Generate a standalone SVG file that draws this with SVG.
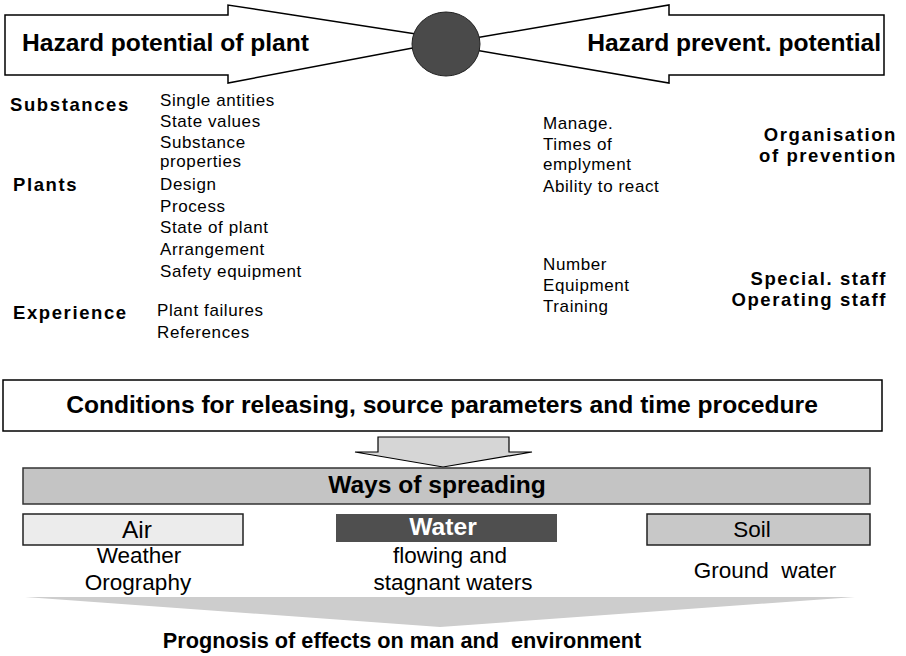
<svg xmlns="http://www.w3.org/2000/svg" width="906" height="656" viewBox="0 0 906 656">
<style>
.bg{fill:#ffffff}
.ln{stroke:#000;stroke-width:1.5;fill:#fff}
.big{font-family:"Liberation Sans",Arial,sans-serif;font-weight:bold;font-size:24.6px;fill:#000}
.lab{font-family:"Liberation Sans",Arial,sans-serif;font-weight:bold;font-size:18.5px;letter-spacing:1.6px;fill:#000}
.reg{font-family:"Liberation Sans",Arial,sans-serif;font-size:17px;letter-spacing:0.6px;fill:#000}
.low{font-family:"Liberation Sans",Arial,sans-serif;font-size:22.5px;fill:#000}
.prog{font-family:"Liberation Sans",Arial,sans-serif;font-weight:bold;font-size:21.7px;fill:#000}
</style>
<rect class="bg" x="0" y="0" width="906" height="656"/>
<g id="hazard-plant">
<polygon class="ln" points="5,15 228,15 228,5 455,40 228,83 228,75 5,75"/>
<text class="big" x="22" y="51">Hazard potential of plant</text>
</g>
<g id="hazard-prevent">
<polygon class="ln" points="884,15 669,15 669,5 440,44 669,83 669,75 884,75"/>
<text class="big" x="881" y="51" text-anchor="end">Hazard prevent. potential</text>
</g>
<g id="centre">
<ellipse cx="446" cy="44" rx="34" ry="32" fill="#4a4a4a" stroke="#222" stroke-width="1"/>
</g>
<g id="substances">
<text class="lab" x="10" y="111">Substances</text>
<text class="reg" x="160" y="106">Single antities</text>
<text class="reg" x="160" y="127">State values</text>
<text class="reg" x="160" y="148">Substance</text>
<text class="reg" x="160" y="167">properties</text>
</g>
<g id="plants">
<text class="lab" x="13" y="191">Plants</text>
<text class="reg" x="160" y="190">Design</text>
<text class="reg" x="160" y="212">Process</text>
<text class="reg" x="160" y="233">State of plant</text>
<text class="reg" x="160" y="255">Arrangement</text>
<text class="reg" x="160" y="277">Safety equipment</text>
</g>
<g id="experience">
<text class="lab" x="13" y="319">Experience</text>
<text class="reg" x="157" y="316">Plant failures</text>
<text class="reg" x="157" y="338">References</text>
</g>
<g id="organisation">
<text class="reg" x="543" y="129">Manage.</text>
<text class="reg" x="543" y="150">Times of</text>
<text class="reg" x="543" y="170">emplyment</text>
<text class="reg" x="543" y="192">Ability to react</text>
<text class="lab" x="897" y="141" text-anchor="end">Organisation</text>
<text class="lab" x="897" y="162" text-anchor="end">of prevention</text>
</g>
<g id="staff">
<text class="reg" x="543" y="270">Number</text>
<text class="reg" x="543" y="291">Equipment</text>
<text class="reg" x="543" y="312">Training</text>
<text class="lab" x="887" y="285" text-anchor="end">Special. staff</text>
<text class="lab" x="887" y="306" text-anchor="end">Operating staff</text>
</g>
<g id="conditions">
<rect class="ln" x="3" y="380" width="879" height="51"/>
<text class="big" x="442" y="413" text-anchor="middle">Conditions for releasing, source parameters and time procedure</text>
</g>
<g id="connectors">
<polygon points="378,437 509,437 509,452 532,452 443,467 355,452 378,452" fill="#d6d6d6" stroke="#000" stroke-width="1.2"/>
</g>
<g id="ways">
<rect x="23" y="468" width="847" height="36" fill="#c4c4c4" stroke="#333" stroke-width="1.5"/>
<text class="big" x="437" y="493" text-anchor="middle">Ways of spreading</text>
</g>
<g id="air">
<rect x="23" y="514" width="220" height="31" fill="#ececec" stroke="#222" stroke-width="1.5"/>
<text class="low" x="137" y="538" text-anchor="middle" style="font-size:24.5px">Air</text>
<text class="low" x="139" y="563" text-anchor="middle">Weather</text>
<text class="low" x="138" y="590" text-anchor="middle">Orography</text>
</g>
<g id="water">
<rect x="336" y="514" width="221" height="28" fill="#4f4f4f"/>
<text class="big" x="443" y="535" text-anchor="middle" style="fill:#fff">Water</text>
<text class="low" x="450" y="563" text-anchor="middle">flowing and</text>
<text class="low" x="453" y="590" text-anchor="middle">stagnant waters</text>
</g>
<g id="soil">
<rect x="647" y="514" width="223" height="31" fill="#c8c8c8" stroke="#222" stroke-width="1.5"/>
<text class="low" x="752" y="537" text-anchor="middle">Soil</text>
<text class="low" x="765" y="578" text-anchor="middle" xml:space="preserve">Ground  water</text>
</g>
<g id="prognosis">
<polygon points="25,597 855,597 440,627" fill="#cdcdcd"/>
<text class="prog" x="402" y="648" text-anchor="middle" xml:space="preserve">Prognosis of effects on man and  environment</text>
</g>
</svg>
